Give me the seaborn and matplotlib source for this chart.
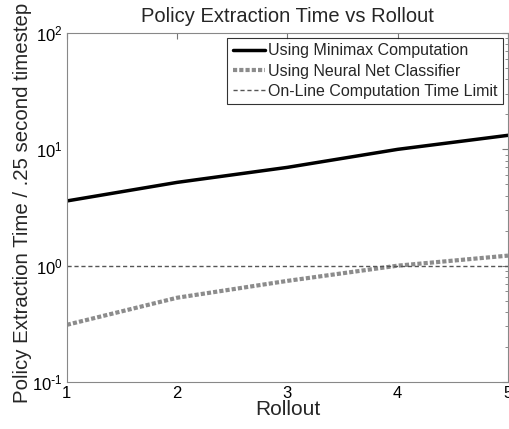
import matplotlib
matplotlib.use("Agg")
import matplotlib.pyplot as plt
from matplotlib.ticker import FuncFormatter
import seaborn as sns
import pandas as pd
import numpy as np

rollout = [1, 2, 3, 4, 5]
minimax = [3.6, 5.2, 7.0, 10.0, 13.2]
neural = [0.31, 0.53, 0.74, 1.0, 1.22]
limit = [1.0, 1.0, 1.0, 1.0, 1.0]
labels = ["Using Minimax Computation", "Using Neural Net Classifier", "On-Line Computation Time Limit"]

sns.set_style("white")
plt.rcParams['font.family'] = ['Liberation Sans', 'DejaVu Sans']

df = pd.DataFrame({
    "Rollout": rollout * 3,
    "Time": minimax + neural + limit,
    "Series": [labels[0]] * 5 + [labels[1]] * 5 + [labels[2]] * 5,
})

fig = plt.figure(figsize=(5.10, 4.29), dpi=100)
ax = fig.add_axes([0.131, 0.1096, 0.865, 0.8134])

sns.lineplot(data=df[df.Series == labels[0]], x="Rollout", y="Time", ax=ax,
             color="black", linewidth=2.5, label=labels[0])
sns.lineplot(data=df[df.Series == labels[1]], x="Rollout", y="Time", ax=ax,
             color="#8c8c8c", linewidth=3, linestyle=(0, (1, 0.5)), label=labels[1])
sns.lineplot(data=df[df.Series == labels[2]], x="Rollout", y="Time", ax=ax,
             color="#555555", linewidth=1, linestyle=(0, (3, 2)), label=labels[2])

ax.set_yscale("log")
ax.set_ylim(0.1, 100)
ax.set_xlim(1, 5)
ax.set_xticks([1, 2, 3, 4, 5])


def logfmt(v, pos):
    e = int(round(np.log10(v)))
    if e < 0:
        return r"$\mathdefault{10^{\text{-}%d}}$" % (-e)
    return r"$\mathdefault{10^{%d}}$" % e


ax.yaxis.set_major_formatter(FuncFormatter(logfmt))
ax.tick_params(axis="both", which="both", direction="in", top=True, right=True,
               labelsize=12, colors="#777777", labelcolor="black")
ax.tick_params(which="major", length=4, pad=3)
ax.tick_params(which="minor", length=2)
for s in ax.spines.values():
    s.set_color("#888888")
    s.set_linewidth(0.8)

ax.set_title("Policy Extraction Time vs Rollout", fontsize=14.5, pad=8)
ax.set_xlabel("Rollout", fontsize=15, labelpad=-1)
ax.set_ylabel("Policy Extraction Time / .25 second timestep", fontsize=14.7)
ax.yaxis.set_label_coords(-0.08, 0.513)

leg = ax.legend(loc="upper right", fontsize=11.5, frameon=True, fancybox=False,
                borderpad=0.35, labelspacing=0.32, handlelength=2.0, handletextpad=0.2,
                borderaxespad=0.3)
leg.get_frame().set_edgecolor("black")
leg.get_frame().set_linewidth(0.8)

fig.savefig("out.png", dpi=100)
